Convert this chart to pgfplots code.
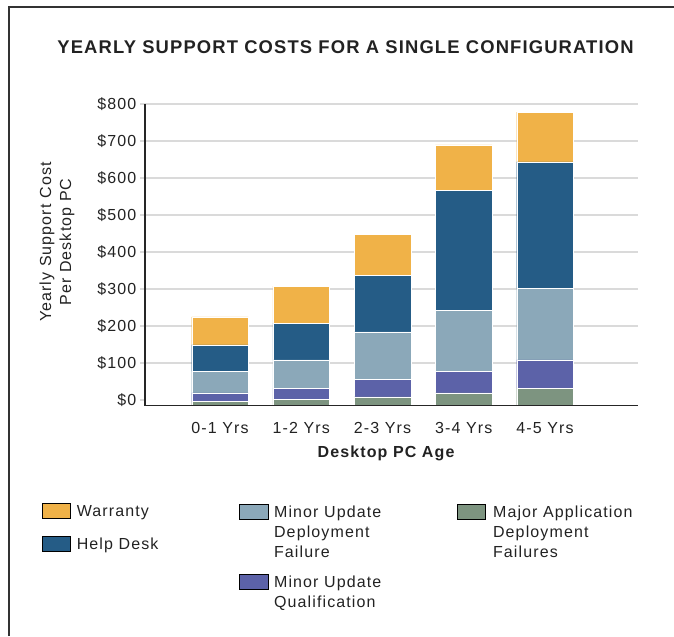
\documentclass[border=0pt]{standalone}
\usepackage{fontspec}
\setmainfont{Liberation Sans}[LetterSpace=7]
\newfontfamily\titlefamily{Liberation Sans}[LetterSpace=6.2]
\usepackage{pgfplots}
\pgfplotsset{compat=1.18}
\definecolor{cwar}{RGB}{240,178,72}
\definecolor{chelp}{RGB}{37,92,134}
\definecolor{cmudf}{RGB}{139,168,185}
\definecolor{cmuq}{RGB}{92,98,168}
\definecolor{cmadf}{RGB}{125,148,128}
\definecolor{cgrid}{RGB}{218,218,218}
\definecolor{ctext}{RGB}{34,34,34}
\newcommand\bodyfont{\fontsize{12}{15}\selectfont}
\begin{document}
\begin{tikzpicture}
\path[use as bounding box] (0,0) rectangle (505.5pt,477pt);
\draw[line width=1.5pt, draw=black!80] (7.1pt,0) -- (7.1pt,471.4pt) -- (505.5pt,471.4pt);
\node[anchor=base, text=ctext] at (259.1pt,436.5pt) {\titlefamily\bfseries\fontsize{13.8}{16}\selectfont YEARLY SUPPORT COSTS FOR A SINGLE CONFIGURATION};

\pgfplotsset{geom/.style={at={(108.75pt,172.875pt)}, anchor=south west,
  scale only axis, width=369.75pt, height=226.125pt,
  xmin=-0.923, xmax=5.145,
  axis x line*=bottom, axis y line*=left,
  axis line style={-, line width=1.2pt, draw=black!85}}}

% gridlines, ticks and labels (the axis line sits a little below the $0 level, as in the original)
\begin{axis}[geom, ymin=-15, ymax=800,
  xtick={0,1,2,3,4},
  xticklabels={0-1 Yrs,1-2 Yrs,2-3 Yrs,3-4 Yrs,4-5 Yrs},
  xtick style={draw=none},
  ytick={100,200,300,400,500,600,700,800},
  yticklabels={\$100,\$200,\$300,\$400,\$500,\$600,\$700,\$800},
  extra y ticks={0}, extra y tick labels={\$0},
  extra y tick style={grid=none, tick style={draw=none}},
  ymajorgrids, grid style={draw=cgrid, line width=1.5pt},
  tick align=outside, major tick length=3.75pt,
  ytick style={draw=cgrid, line width=1pt},
  tick label style={font=\bodyfont, text=ctext},
  yticklabel style={inner xsep=2.5pt},
  xticklabel style={anchor=base, yshift=-17.4pt},
  xlabel={Desktop PC Age},
  xlabel style={font=\bodyfont\bfseries, text=ctext, at={(axis description cs:0.489,0)}, anchor=base, yshift=-39pt},
  ylabel={Yearly Support Cost\\Per Desktop PC},
  ylabel style={font=\bodyfont, text=ctext, align=center, at={(axis description cs:-0.1785,0.542)}, anchor=center},
]
\end{axis}

% stacked bars, drawn from the axis line
\begin{axis}[geom, ymin=0, ymax=815, xtick=\empty, ytick=\empty, axis on top,
  ybar stacked, bar width=42.4pt,
  every axis plot/.append style={draw=white, line width=0.3pt}]
% Major Application Deployment Failures
\addplot[fill=cmadf] coordinates {(0,10.8) (1,17.1) (2,23.4) (3,34.2) (4,46.8)};
% Minor Update Qualification
\addplot[fill=cmuq] coordinates {(0,23.4) (1,29.7) (2,46.8) (3,58.6) (4,76.6)};
% Minor Update Deployment Failure
\addplot[fill=cmudf] coordinates {(0,58.6) (1,76.6) (2,128.8) (3,164.9) (4,192.8)};
% Help Desk
\addplot[fill=chelp] coordinates {(0,71.2) (1,99.1) (2,153.2) (3,324.3) (4,342.3)};
% Warranty
\addplot[fill=cwar] coordinates {(0,75.7) (1,100) (2,110.8) (3,122.5) (4,134.2)};
\end{axis}

\pgfplotsset{lgd/.style={hide axis, scale only axis, width=10pt, height=10pt,
  xmin=0, xmax=1, ymin=0, ymax=1, anchor=north west,
  legend image code/.code={\fill[##1] (0pt,-1.5pt) rectangle (21.2pt,9.75pt);},
  legend style={at={(0,1)}, anchor=north west, draw=none, fill=none, inner sep=0pt,
    column sep=2.5pt, font=\bodyfont, text=ctext,
    cells={anchor=base west, inner sep=0pt}}}}

\begin{axis}[lgd, at={(31.3pt,99.975pt)}, legend style={row sep={24.5pt,between origins}}]
\addlegendimage{fill=cwar}\addlegendentry{Warranty}
\addlegendimage{fill=chelp}\addlegendentry{Help Desk}
\end{axis}

\begin{axis}[lgd, at={(179.25pt,99.975pt)}, legend style={row sep={52.5pt,between origins}}]
\addlegendimage{fill=cmudf}\addlegendentry{\vtop{\hbox{Minor Update}\hbox{Deployment}\hbox{Failure}}}
\addlegendimage{fill=cmuq}\addlegendentry{\vtop{\hbox{Minor Update}\hbox{Qualification}}}
\end{axis}

\begin{axis}[lgd, at={(342.5pt,99.975pt)}, legend style={column sep=3.5pt}]
\addlegendimage{fill=cmadf}\addlegendentry{\vtop{\hbox{Major Application}\hbox{Deployment}\hbox{Failures}}}
\end{axis}
\end{tikzpicture}
\end{document}
